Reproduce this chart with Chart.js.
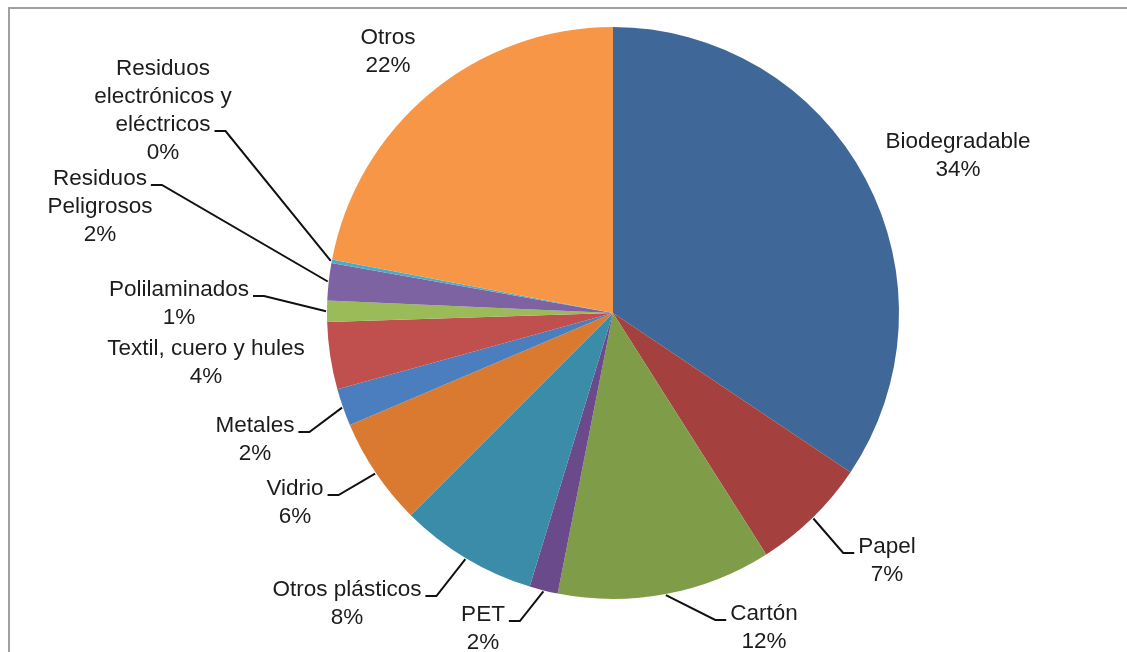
<!DOCTYPE html>
<html>
<head>
<meta charset="utf-8">
<script src="https://cdn.jsdelivr.net/npm/chart.js@4"></script>
<style>
  body { margin: 0; background: #fff; }
</style>
</head>
<body>
<canvas id="wasteChart" width="1127" height="652"></canvas>
<script>
// composición de residuos (%), en sentido horario desde las 12
const categories = [
  "Biodegradable",
  "Papel",
  "Cartón",
  "PET",
  "Otros plásticos",
  "Vidrio",
  "Metales",
  "Textil, cuero y hules",
  "Polilaminados",
  ["Residuos", "Peligrosos"],
  ["Residuos", "electrónicos y", "eléctricos"],
  "Otros",
];
const values = [34.4, 6.6, 12.1, 1.6, 7.8, 6.1, 2.1, 3.8, 1.2, 2.1, 0.2, 22.0];
const colors = [
  "#3f6898", "#a4403d", "#7f9c48", "#6b4a8c", "#3b8ca8", "#d97a30",
  "#4a7ebf", "#c0504d", "#9bbb59", "#7e63a2", "#4bacc6", "#f79646",
];

// posición de cada etiqueta (centro x, centro de la primera línea y)
const labelPos = [
  { x: 958, y: 142 },
  { x: 887, y: 547, side: "right", line: 0 },
  { x: 764, y: 614, side: "right", line: 0 },
  { x: 483, y: 615, side: "left", line: 0 },
  { x: 347, y: 590, side: "left", line: 0 },
  { x: 295, y: 489, side: "left", line: 0 },
  { x: 255, y: 426, side: "left", line: 0 },
  { x: 206, y: 349 },
  { x: 179, y: 290, side: "left", line: 0 },
  { x: 100, y: 179, side: "left", line: 0 },
  { x: 163, y: 69, side: "left", line: 2 },
  { x: 388, y: 38 },
];

const FONT = '22.5px "Liberation Sans", Arial, sans-serif';
const LINE_H = 28;

const frame = {
  id: "frame",
  beforeDraw(chart) {
    const ctx = chart.ctx;
    ctx.save();
    ctx.strokeStyle = "#a0a0a0";
    ctx.lineWidth = 2;
    ctx.beginPath();
    ctx.moveTo(1127, 8);
    ctx.lineTo(9, 8);
    ctx.lineTo(9, 652);
    ctx.stroke();
    ctx.restore();
  },
};

const pieLabels = {
  id: "pieLabels",
  afterDraw(chart) {
    const ctx = chart.ctx;
    const meta = chart.getDatasetMeta(0);
    const data = chart.data.datasets[0].data;
    const total = data.reduce((s, v) => s + v, 0);
    ctx.save();
    ctx.font = FONT;
    ctx.fillStyle = "#1c1c1c";
    ctx.textAlign = "center";
    ctx.textBaseline = "middle";

    meta.data.forEach((arc, i) => {
      const p = labelPos[i];
      const name = chart.data.labels[i];
      const lines = (Array.isArray(name) ? name.slice() : [name]);
      lines.push(Math.round((data[i] / total) * 100) + "%");
      lines.forEach((t, k) => ctx.fillText(t, p.x, p.y + k * LINE_H));

      if (p.side) {
        const props = arc.getProps(["x", "y", "startAngle", "endAngle", "outerRadius"], true);
        const mid = (props.startAngle + props.endAngle) / 2;
        const r = props.outerRadius + 1;
        const ex = props.x + Math.cos(mid) * r;
        const ey = props.y + Math.sin(mid) * r;
        const w = ctx.measureText(lines[p.line]).width;
        const ly = p.y + p.line * LINE_H + 6;
        let sx, bx;
        if (p.side === "left") {
          sx = p.x + w / 2 + 4;
          bx = sx + 11;
        } else {
          sx = p.x - w / 2 - 4;
          bx = sx - 11;
        }
        ctx.strokeStyle = "#111";
        ctx.lineWidth = 2;
        ctx.beginPath();
        ctx.moveTo(sx, ly);
        ctx.lineTo(bx, ly);
        ctx.lineTo(ex, ey);
        ctx.stroke();
      }
    });
    ctx.restore();
  },
};

const ctx = document.getElementById("wasteChart").getContext("2d");
new Chart(ctx, {
  type: "pie",
  data: {
    labels: categories,
    datasets: [
      {
        data: values,
        backgroundColor: colors,
        borderWidth: 0,
      },
    ],
  },
  options: {
    responsive: false,
    animation: false,
    layout: {
      padding: { left: 327, right: 228, top: 27, bottom: 53 },
    },
    plugins: {
      legend: { display: false },
      tooltip: { enabled: false },
    },
  },
  plugins: [frame, pieLabels],
});
</script>
</body>
</html>
